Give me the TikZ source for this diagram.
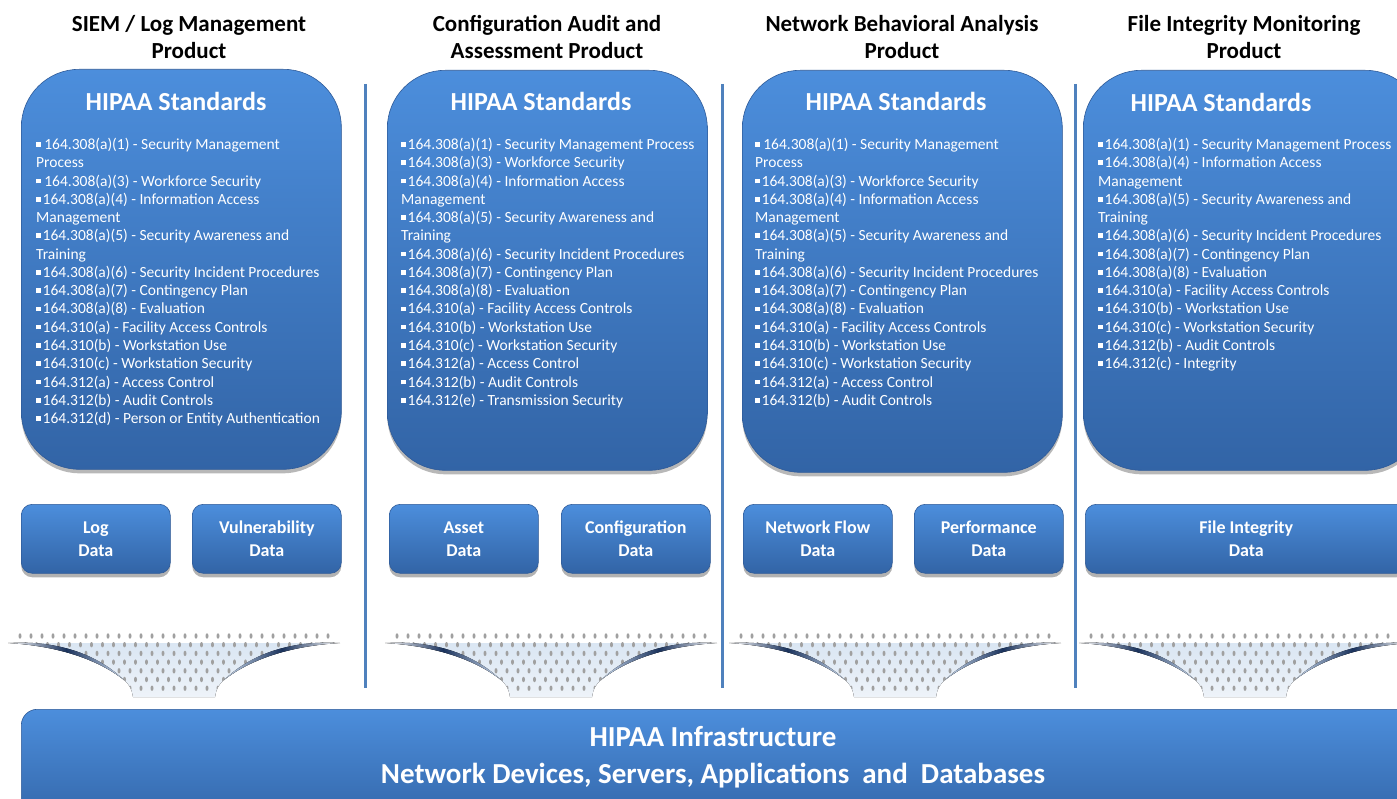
\documentclass[tikz,border=0pt]{standalone}
\usepackage{fontspec}
\setmainfont{Carlito}
\usetikzlibrary{shadows}

\definecolor{boxtop}{RGB}{76,142,220}
\definecolor{boxbot}{RGB}{50,100,166}
\definecolor{boxedge}{RGB}{46,90,152}
\definecolor{sepblue}{RGB}{79,129,189}
\definecolor{navy}{RGB}{26,50,92}
\definecolor{funtop}{RGB}{218,230,243}
\definecolor{funbot}{RGB}{238,243,249}
\definecolor{lensend}{RGB}{200,216,236}
\definecolor{dotgray}{RGB}{160,160,160}

\newcommand\bsq{\rule[0.18em]{0.3em}{0.3em}}
\newcommand\bi{\bsq\hspace{0.12em}}
\newcommand\bis{\bsq\ }

\tikzset{
  bigbox/.style={rectangle, rounded corners=58pt, top color=boxtop, bottom color=boxbot,
    draw=boxedge, line width=0.6pt, inner sep=0pt, anchor=north west,
    drop shadow={shadow xshift=0pt, shadow yshift=-4pt, opacity=0.28, fill=black}},
  databox/.style={rectangle, rounded corners=11pt, top color=boxtop, bottom color=boxbot,
    draw=boxedge, line width=0.6pt, inner sep=0pt, anchor=north west,
    text=white, align=center, font=\fontsize{18}{23}\selectfont\bfseries,
    drop shadow={shadow xshift=0pt, shadow yshift=-4pt, opacity=0.3, fill=black}},
  basebox/.style={rectangle, rounded corners=16pt, top color=boxtop, bottom color=boxbot,
    draw=boxedge, line width=0.6pt, inner sep=0pt, anchor=north west},
  ptitle/.style={align=center, inner sep=0pt, font=\fontsize{23}{27}\selectfont\bfseries, text=black},
  hstd/.style={inner sep=0pt, text=white, font=\fontsize{26}{30}\selectfont\bfseries},
  lst/.style={inner sep=0pt, anchor=north west, align=left, text=white,
    font=\fontsize{15.5}{18.27}\selectfont},
  infratxt/.style={align=center, inner sep=0pt, text=white, font=\fontsize{29}{37}\selectfont\bfseries},
  sepline/.style={draw=sepblue, line width=3pt},
  dot/.style={fill=dotgray},
}

\newcommand\funnelat[1]{%
  \begin{scope}[shift={(#1,0)}]
    \fill[top color=funtop, bottom color=funbot]
      (-164,643) .. controls (-115,646) and (-75,660) .. (-50,680)
      .. controls (-44,685) and (-42,690) .. (-41,697) -- (41,697)
      .. controls (42,690) and (44,685) .. (50,680)
      .. controls (75,660) and (115,646) .. (164,643) -- cycle;
    \begin{scope}
      \clip (-166,629) -- (-166,643) .. controls (-115,646) and (-75,660) .. (-50,680)
      .. controls (-44,685) and (-42,690) .. (-41,697) -- (41,697)
      .. controls (42,690) and (44,685) .. (50,680)
      .. controls (75,660) and (115,646) .. (166,643) -- (166,629) -- cycle;
      \foreach \r in {0,...,6}{
        \pgfmathsetmacro\yy{636+8.7*\r}
        \pgfmathsetmacro\off{mod(\r,2)*5.5}
        \foreach \c in {-14,...,14}{
          \fill[dot] ({\c*11+\off},\yy) ellipse (1.5 and 2.7);
        }
      }
    \end{scope}
    \fill[left color=white, right color=lensend, middle color=navy]
      (-166,643) .. controls (-115,646) and (-75,660) .. (-50,680)
      .. controls (-76,655) and (-115,640) .. (-166,643) -- cycle;
    \fill[left color=lensend, right color=white, middle color=navy]
      (166,643) .. controls (115,646) and (75,660) .. (50,680)
      .. controls (76,655) and (115,640) .. (166,643) -- cycle;
  \end{scope}}

\begin{document}
\begin{tikzpicture}[x=1pt, y=-1pt]
\useasboundingbox (0,0) rectangle (1397,799);
\clip (0,0) rectangle (1397,799);
\fill[white] (0,0) rectangle (1397,799);

% product titles
\node[ptitle] (t1) at (189,37.5) {SIEM / Log Management\\Product};
\node[ptitle] (t2) at (547,37.5) {Configuration Audit and\\Assessment Product};
\node[ptitle] (t3) at (902,37.5) {Network Behavioral Analysis\\Product};
\node[ptitle] (t4) at (1244,37.5) {File Integrity Monitoring\\Product};

% separators
\coordinate (s1a) at (365,84); \coordinate (s1b) at (365,688);
\coordinate (s2a) at (722,84); \coordinate (s2b) at (722,688);
\coordinate (s3a) at (1075,84); \coordinate (s3b) at (1075,688);
\draw[sepline] (s1a) -- (s1b);
\draw[sepline] (s2a) -- (s2b);
\draw[sepline] (s3a) -- (s3b);

% standards boxes
\node[bigbox, minimum width=320pt, minimum height=400pt] (b1) at (21,69) {};
\node[bigbox, minimum width=320pt, minimum height=400pt] (b2) at (387,70) {};
\node[bigbox, minimum width=320pt, minimum height=402pt] (b3) at (742,70) {};
\node[bigbox, minimum width=340pt, minimum height=400pt] (b4) at (1083,70) {};

\node[hstd] (h1) at (176,101) {HIPAA Standards};
\node[hstd] (h2) at (541,101) {HIPAA Standards};
\node[hstd] (h3) at (896,101) {HIPAA Standards};
\node[hstd] (h4) at (1221,102) {HIPAA Standards};

\node[lst] (l1) at (36,138) {\bis 164.308(a)(1) - Security Management\\Process\\
\bis 164.308(a)(3) - Workforce Security\\
\bi 164.308(a)(4) - Information Access\\Management\\
\bi 164.308(a)(5) - Security Awareness and\\Training\\
\bi 164.308(a)(6) - Security Incident Procedures\\
\bi 164.308(a)(7) - Contingency Plan\\
\bi 164.308(a)(8) - Evaluation\\
\bi 164.310(a) - Facility Access Controls\\
\bi 164.310(b) - Workstation Use\\
\bi 164.310(c) - Workstation Security\\
\bi 164.312(a) - Access Control\\
\bi 164.312(b) - Audit Controls\\
\bi 164.312(d) - Person or Entity Authentication};

\node[lst] (l2) at (401,138) {\bi 164.308(a)(1) - Security Management Process\\
\bi 164.308(a)(3) - Workforce Security\\
\bi 164.308(a)(4) - Information Access\\Management\\
\bi 164.308(a)(5) - Security Awareness and\\Training\\
\bi 164.308(a)(6) - Security Incident Procedures\\
\bi 164.308(a)(7) - Contingency Plan\\
\bi 164.308(a)(8) - Evaluation\\
\bi 164.310(a) - Facility Access Controls\\
\bi 164.310(b) - Workstation Use\\
\bi 164.310(c) - Workstation Security\\
\bi 164.312(a) - Access Control\\
\bi 164.312(b) - Audit Controls\\
\bi 164.312(e) - Transmission Security};

\node[lst] (l3) at (755,138) {\bis 164.308(a)(1) - Security Management\\Process\\
\bi 164.308(a)(3) - Workforce Security\\
\bi 164.308(a)(4) - Information Access\\Management\\
\bi 164.308(a)(5) - Security Awareness and\\Training\\
\bi 164.308(a)(6) - Security Incident Procedures\\
\bi 164.308(a)(7) - Contingency Plan\\
\bi 164.308(a)(8) - Evaluation\\
\bi 164.310(a) - Facility Access Controls\\
\bi 164.310(b) - Workstation Use\\
\bi 164.310(c) - Workstation Security\\
\bi 164.312(a) - Access Control\\
\bi 164.312(b) - Audit Controls};

\node[lst] (l4) at (1098,138) {\bi 164.308(a)(1) - Security Management Process\\
\bi 164.308(a)(4) - Information Access\\Management\\
\bi 164.308(a)(5) - Security Awareness and\\Training\\
\bi 164.308(a)(6) - Security Incident Procedures\\
\bi 164.308(a)(7) - Contingency Plan\\
\bi 164.308(a)(8) - Evaluation\\
\bi 164.310(a) - Facility Access Controls\\
\bi 164.310(b) - Workstation Use\\
\bi 164.310(c) - Workstation Security\\
\bi 164.312(b) - Audit Controls\\
\bi 164.312(c) - Integrity};

% data boxes
\node[databox, minimum width=149pt, minimum height=69pt] (d1) at (21,504) {Log\\Data};
\node[databox, minimum width=149pt, minimum height=69pt] (d2) at (192,504) {Vulnerability\\Data};
\node[databox, minimum width=149pt, minimum height=69pt] (d3) at (389,504) {Asset\\Data};
\node[databox, minimum width=149pt, minimum height=69pt] (d4) at (561,504) {Configuration\\Data};
\node[databox, minimum width=149pt, minimum height=69pt] (d5) at (743,504) {Network Flow\\Data};
\node[databox, minimum width=149pt, minimum height=69pt] (d6) at (914,504) {Performance\\Data};
\node[databox, minimum width=322pt, minimum height=69pt] (d7) at (1085,504) {File Integrity\\Data};

% funnels
\funnelat{174}
\funnelat{551}
\funnelat{895}
\funnelat{1245}

% infrastructure base
\node[basebox, minimum width=1400pt, minimum height=120pt] (base) at (21,709) {};
\node[infratxt] (basetxt) at (713,757.5) {HIPAA Infrastructure\\Network Devices, Servers, Applications\ \ and\ \ Databases};
\end{tikzpicture}
\end{document}
